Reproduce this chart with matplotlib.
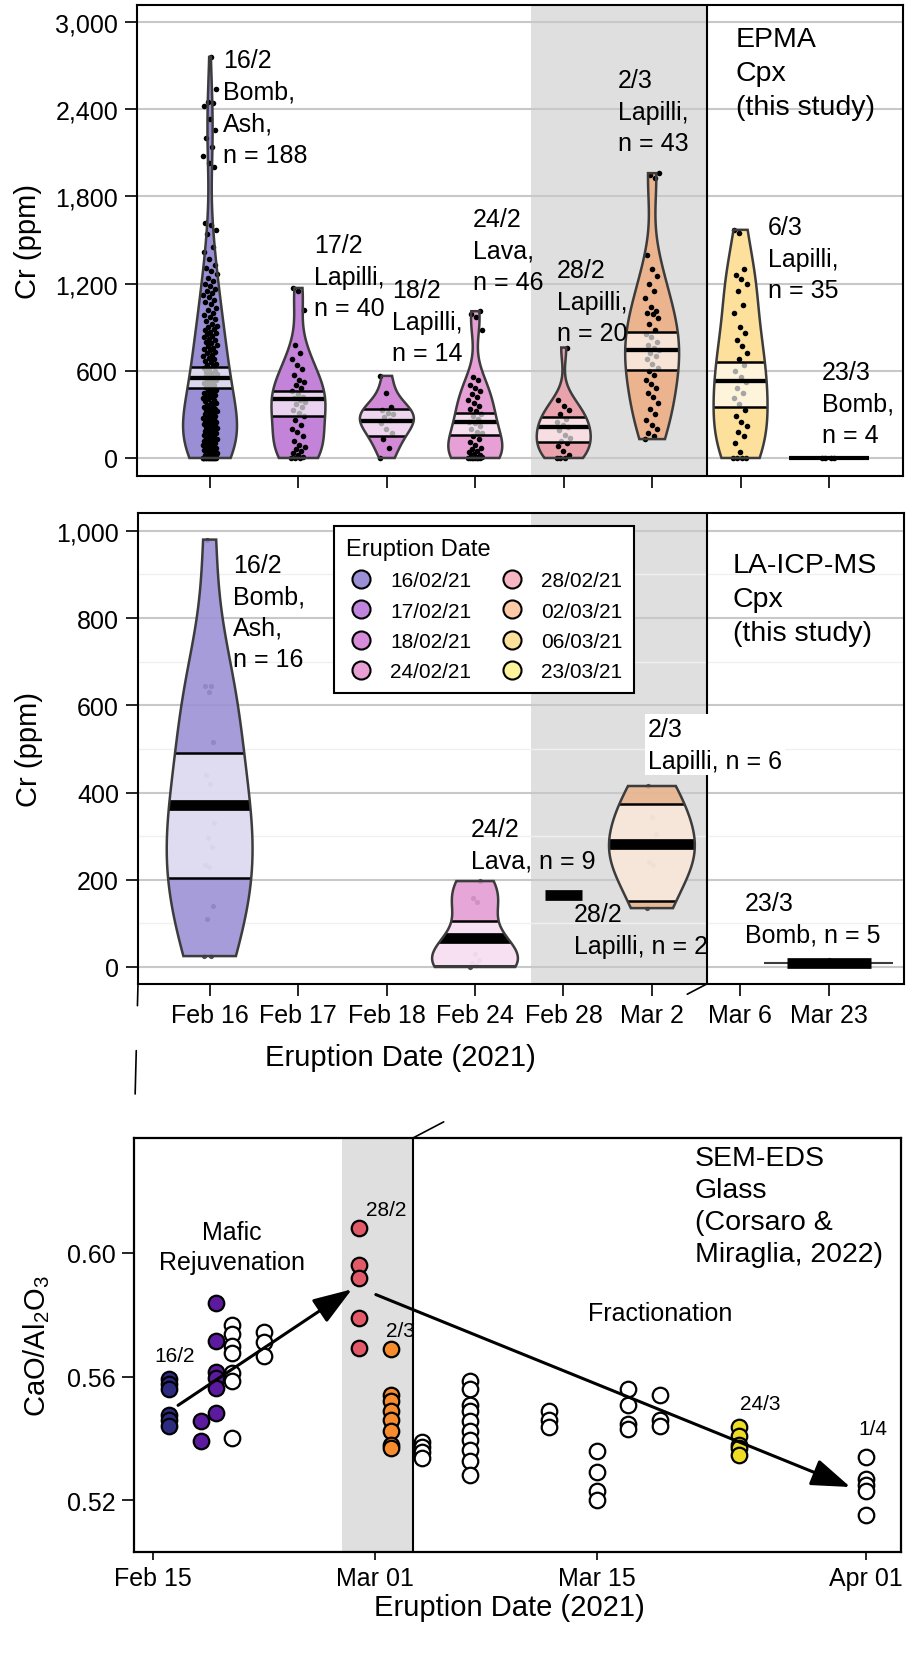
import numpy as np
import matplotlib.pyplot as plt
import matplotlib.dates as mdates
from matplotlib.lines import Line2D
from matplotlib.patches import Rectangle, PathPatch, ConnectionPatch
from matplotlib.ticker import FuncFormatter, MultipleLocator
from matplotlib.colors import to_rgba

plt.rcParams['font.family'] = ['Liberation Sans', 'DejaVu Sans']
plt.rcParams['mathtext.default'] = 'regular'

# ---------------- data ----------------
categories = ['Feb 16', 'Feb 17', 'Feb 18', 'Feb 24', 'Feb 28', 'Mar 2', 'Mar 6', 'Mar 23']
legend_labels = ['16/02/21', '17/02/21', '18/02/21', '24/02/21',
                 '28/02/21', '02/03/21', '06/03/21', '23/03/21']
legend_colors = ['#9b8fd6', '#bf84dc', '#d68cd9', '#e9a0d4',
                 '#f7b7c2', '#fccaa6', '#fde09b', '#fdf39c']

# EPMA Cpx, Cr (ppm)
epma_feb16 = [0] * 14 + [
    12, 15, 18, 20, 22, 28, 30, 35, 40, 45, 48, 52, 55, 60, 65, 70, 75, 80, 85,
    88, 92, 95, 100, 105, 110, 115, 118, 125, 130, 135, 140, 145, 150, 155, 165,
    170, 175, 180, 185, 195, 200, 205, 210, 215, 225, 230, 235, 240, 245, 250,
    255, 260, 265, 270, 275, 280, 285, 290, 295, 300, 305, 310, 320, 325, 330,
    335, 345, 350, 360, 365, 375, 380, 390, 400, 405, 415, 420, 430, 435, 440,
    450, 455, 465, 470, 480, 490, 500, 505, 515, 520, 530, 540, 545, 555, 560,
    570, 580, 585, 590, 600, 610, 620, 630, 640, 650, 660, 670, 680, 690, 700,
    710, 720, 730, 740, 750, 760, 770, 780, 790, 800, 810, 820, 830, 840, 850,
    860, 870, 880, 890, 900, 910, 925, 940, 955, 970, 985, 1000, 1015, 1030,
    1060, 1075, 1090, 1105, 1120, 1135, 1150, 1165, 1180, 1195, 1215, 1240,
    1265, 1290, 1310, 1330, 1370, 1420, 1450, 1540, 1570, 1600, 1620, 2000,
    2030, 2080, 2140, 2200, 2260, 2330, 2420, 2440, 2450, 2540, 2760]
epma_feb17 = [0, 0, 0, 10, 20, 35, 50, 60, 75, 90, 120, 150, 180, 200, 230, 260,
              290, 310, 330, 350, 370, 385, 400, 410, 420, 440, 460, 480, 500,
              520, 540, 570, 610, 640, 680, 720, 780, 1020, 1150, 1170]
epma_feb18 = [0, 70, 130, 170, 200, 240, 260, 280, 300, 310, 330, 350, 450, 565]
epma_feb24 = [0, 0, 0, 0, 0, 0, 0, 0, 5, 10, 15, 20, 30, 40, 50, 60, 70, 90,
              110, 130, 150, 170, 180, 200, 220, 240, 250, 270, 290, 300, 320,
              340, 360, 380, 400, 420, 440, 460, 480, 500, 540, 560, 880, 970,
              990, 1010]
epma_feb28 = [0, 0, 0, 20, 50, 80, 100, 120, 140, 160, 190, 210, 230, 250, 270,
              300, 330, 360, 400, 760]
epma_mar02 = [130, 150, 170, 200, 230, 260, 300, 340, 380, 420, 450, 480, 510,
              540, 570, 600, 620, 650, 680, 700, 720, 740, 760, 780, 800, 830,
              850, 880, 920, 960, 990, 1000, 1010, 1040, 1100, 1150, 1200, 1250,
              1300, 1400, 1930, 1950, 1960]
epma_mar06 = [0, 0, 0, 0, 40, 100, 150, 180, 220, 250, 290, 330, 370, 410, 450,
              480, 520, 560, 600, 640, 680, 720, 770, 810, 860, 900, 1000, 1050,
              1150, 1200, 1230, 1260, 1300, 1550, 1570]
epma_mar23 = [0, 0, 0, 0]
epma_data = [epma_feb16, epma_feb17, epma_feb18, epma_feb24,
             epma_feb28, epma_mar02, epma_mar06, epma_mar23]
epma_band_lo = [480, 290, 150, 160, 110, 605, 350, 0]
epma_band_mid = [550, 405, 255, 250, 210, 745, 530, 0]
epma_band_hi = [625, 460, 335, 310, 280, 865, 660, 0]
epma_colors = ['#9a8fd4', '#c283d8', '#d38ad6', '#e6a0d6',
               '#e8a3ad', '#ecb48e', '#fde09b', '#fde09b']
epma_labels = ['16/2\nBomb,\nAsh,\nn = 188', '17/2\nLapilli,\nn = 40',
               '18/2\nLapilli,\nn = 14', '24/2\nLava,\nn = 46',
               '28/2\nLapilli,\nn = 20', '2/3\nLapilli,\nn = 43',
               '6/3\nLapilli,\nn = 35', '23/3\nBomb,\nn = 4']

# LA-ICP-MS Cpx, Cr (ppm)
la_pos = [0, 3, 4, 5, 7]
la_feb16 = [25, 25, 110, 140, 230, 235, 275, 295, 330, 420, 440, 515, 630, 645, 645, 980]
la_feb24 = [0, 5, 10, 15, 30, 66, 150, 158, 197]
la_feb28 = [160, 170]
la_mar02 = [135, 235, 240, 305, 345, 415]
la_mar23 = [5, 8, 10, 12, 15]
la_data = [la_feb16, la_feb24, la_feb28, la_mar02, la_mar23]
la_band_lo = [205, 2, 165, 151, 10]
la_band_mid = [372, 66, 165, 282, 10]
la_band_hi = [490, 105, 165, 374, 10]
la_colors = ['#9a8fd4', '#e39bd3', '#e8a3ad', '#e9b48c', '#fdf39c']
la_labels = ['16/2\nBomb,\nAsh,\nn = 16', '24/2\nLava, n = 9',
             '28/2\nLapilli, n = 2', '2/3\nLapilli, n = 6', '23/3\nBomb, n = 5']

# SEM-EDS glass, CaO/Al2O3 (Corsaro & Miraglia, 2022)
glass_dates = ['2021-02-16', '2021-02-18', '2021-02-19', '2021-02-20', '2021-02-22',
               '2021-02-28', '2021-03-02', '2021-03-04', '2021-03-07', '2021-03-12',
               '2021-03-15', '2021-03-17', '2021-03-19', '2021-03-24', '2021-04-01']
glass_values = [
    [0.5591, 0.5575, 0.5559, 0.5476, 0.5458, 0.5441],
    [0.5455, 0.5393],
    [0.5837, 0.5715, 0.5615, 0.5594, 0.5563, 0.5483],
    [0.5768, 0.5736, 0.5698, 0.5677, 0.5611, 0.5587, 0.5403],
    [0.5743, 0.5712, 0.5667],
    [0.6080, 0.5962, 0.5920, 0.5788, 0.5691],
    [0.5688, 0.5539, 0.5520, 0.5490, 0.5459, 0.5424, 0.5379, 0.5369],
    [0.5389, 0.5372, 0.5355, 0.5337],
    [0.5587, 0.5559, 0.5507, 0.5490, 0.5455, 0.5424, 0.5396, 0.5362, 0.5327, 0.5282],
    [0.5490, 0.5459, 0.5438],
    [0.5358, 0.5292, 0.5230, 0.5202],
    [0.5559, 0.5507, 0.5448, 0.5431],
    [0.5542, 0.5459, 0.5441],
    [0.5438, 0.5407, 0.5379, 0.5369, 0.5345],
    [0.5341, 0.5268, 0.5251, 0.5230, 0.5153],
]
glass_colors = ['#2d2b80', '#5c1a9e', '#5c1a9e', 'white', 'white',
                '#e25a68', '#f68c2d', 'white', 'white', 'white',
                'white', 'white', 'white', '#eedd22', 'white']

# ---------------- helpers ----------------
EDGE = '#3c3c3c'
SHADE = '#e0dfe0'
GRID = '#c8c8c8'


def spread(n, amount):
    # deterministic horizontal spread of the dots
    k = np.arange(n)
    return ((k * 0.618034) % 1.0 - 0.5) * 2 * amount


def violin(ax, pos, values, color, width, band, mid_lw, alpha, bw=None):
    vp = ax.violinplot([values], positions=[pos], widths=width,
                       showextrema=False, bw_method=bw)
    body = vp['bodies'][0]
    body.set_alpha(None)
    body.set_facecolor(to_rgba(color, alpha))
    body.set_edgecolor('none')
    body.set_zorder(2)
    path = body.get_paths()[0]
    lo, mid, hi = band
    rect = Rectangle((pos - width, lo), 2 * width, hi - lo, facecolor='white',
                     alpha=0.65, edgecolor='none', zorder=3.8)
    ax.add_patch(rect)
    rect.set_clip_path(path, ax.transData)
    for y, lw in [(lo, 1.8), (hi, 1.8), (mid, mid_lw)]:
        ln = ax.hlines(y, pos - width, pos + width, colors='k', linewidth=lw, zorder=4)
        ln.set_clip_path(path, ax.transData)
    ax.add_patch(PathPatch(path, facecolor='none', edgecolor=EDGE, lw=1.8, zorder=5))


def style_violin_axes(ax, ymax_tick, ystep):
    for s in ax.spines.values():
        s.set_linewidth(1.5)
    ax.set_xticks(range(len(categories)))
    ax.set_yticks(np.arange(0, ymax_tick + 1, ystep))
    ax.yaxis.set_major_formatter(FuncFormatter(lambda v, p: f'{v:,.0f}'))
    ax.tick_params(axis='both', length=8.6, width=1.2, labelsize=18, pad=5)
    ax.yaxis.grid(True, color=GRID, lw=1.5)
    ax.set_axisbelow(True)
    ax.axvspan(3.63, 5.62, color=SHADE, lw=0, zorder=0)
    ax.axvline(5.62, color='k', lw=1.5, zorder=1)
    ax.set_ylabel('Cr (ppm)', fontsize=21)
    ax.yaxis.set_label_coords(-0.124, 0.5)


fig = plt.figure(figsize=(9.08, 16.56), dpi=100)
ax1 = fig.add_axes([137 / 908, 1 - 477 / 1656, 766 / 908, 471 / 1656])
ax2 = fig.add_axes([138 / 908, 1 - 985 / 1656, 766 / 908, 471 / 1656])
ax3 = fig.add_axes([134 / 908, 1 - 1553 / 1656, 767 / 908, 414 / 1656])

# ---------------- EPMA panel ----------------
ax1.set_xlim(-0.826, 7.837)
ax1.set_ylim(-124, 3117)
style_violin_axes(ax1, 3000, 600)
ax1.tick_params(labelbottom=False)
for i, vals in enumerate(epma_data):
    band = (epma_band_lo[i], epma_band_mid[i], epma_band_hi[i])
    ax1.scatter(i + spread(len(vals), 0.08), vals, s=16, c='k', lw=0, zorder=3.5)
    if max(vals) - min(vals) > 50:
        violin(ax1, i, vals, epma_colors[i], 0.61, band, 3.1, 1.0)
    else:
        ax1.hlines(epma_band_mid[i], i - 0.45, i + 0.45, colors='k', lw=3, zorder=4)

epma_label_xy = [(0.147, 2821), (1.176, 1548), (2.058, 1239), (2.974, 1727),
                 (3.924, 1376), (4.614, 2684), (6.31, 1672), (6.92, 674)]
for (x, y), txt in zip(epma_label_xy, epma_labels):
    ax1.text(x, y, txt, fontsize=18, ha='left', va='top', linespacing=1.4, zorder=6)
ax1.text(5.948, 2973, 'EPMA\nCpx\n(this study)', fontsize=20.5, ha='left',
         va='top', linespacing=1.4, zorder=6)

# ---------------- LA-ICP-MS panel ----------------
ax2.set_xlim(-0.81, 7.85)
ax2.set_ylim(-39, 1041)
style_violin_axes(ax2, 1000, 200)
ax2.yaxis.set_minor_locator(MultipleLocator(100))
ax2.yaxis.grid(True, which='minor', color='#f0f0f0', lw=1)
ax2.tick_params(axis='y', which='minor', length=0)
ax2.set_xticklabels(categories)
ax2.set_xlabel('Eruption Date (2021)', fontsize=21)
ax2.xaxis.set_label_coords(0.343, -0.125)

for pos, vals, col, lo, mid, hi in zip(la_pos, la_data, la_colors,
                                      la_band_lo, la_band_mid, la_band_hi):
    ax2.scatter(pos + spread(len(vals), 0.06), vals, s=14, c='#505050', lw=0, zorder=1.5)
    if max(vals) - min(vals) > 50:
        violin(ax2, pos, vals, col, 0.97, (lo, mid, hi), 7.7, 0.88)
    elif len(vals) == 2:
        ax2.hlines(mid, pos - 0.21, pos + 0.21, colors='k', lw=7.7, zorder=4)
    else:
        ax2.hlines(mid, pos - 0.73, pos + 0.73, colors=EDGE, lw=1.5, zorder=4)
        ax2.hlines(mid, pos - 0.475, pos + 0.475, colors='k', lw=7.7, zorder=4.5)

la_label_xy = [(0.26, 950), (2.95, 344), (4.116, 149), (4.953, 573), (6.05, 174)]
for (x, y), txt in zip(la_label_xy, la_labels):
    bbox = dict(facecolor='white', edgecolor='none', pad=2) if txt.startswith('2/3') else None
    ax2.text(x, y, txt, fontsize=18, ha='left', va='top', linespacing=1.4,
             zorder=6, bbox=bbox)
ax2.text(5.914, 952, 'LA-ICP-MS\nCpx\n(this study)', fontsize=20.5, ha='left',
         va='top', linespacing=1.4, zorder=6)

handles = [Line2D([], [], marker='o', ls='', markersize=13, mfc=c, mec='k', mew=1.5)
           for c in legend_colors]
leg = ax2.legend(handles, legend_labels, loc='upper left', bbox_to_anchor=(0.256, 0.972),
                 ncol=2, fontsize=15, title='Eruption Date', title_fontsize=17,
                 alignment='left', fancybox=False, edgecolor='k', framealpha=1,
                 borderpad=0.55, handlelength=1.5, handletextpad=0.65,
                 columnspacing=1.2, labelspacing=0.55, borderaxespad=0)
leg.get_frame().set_linewidth(1.5)
leg.set_zorder(7)

# ---------------- SEM-EDS panel ----------------
base = mdates.date2num(np.datetime64('2021-02-15'))
ax3.set_xlim(base - 1.2, mdates.date2num(np.datetime64('2021-04-01')) + 2.2)
ax3.set_ylim(0.5033, 0.6371)
for s in ax3.spines.values():
    s.set_linewidth(1.6)
ax3.axvspan(base + 11.9, base + 16.4, color=SHADE, lw=0, zorder=0)
ax3.axvline(base + 16.4, color='k', lw=1.5, zorder=1)

for d, vals, col in zip(glass_dates, glass_values, glass_colors):
    x = np.full(len(vals), mdates.date2num(np.datetime64(d)))
    ax3.scatter(x, vals, s=125, c=col, edgecolors='k', linewidths=1.6, zorder=3)

arrow = dict(arrowstyle='-|>,head_length=1.2,head_width=0.42', lw=2.2, color='k',
             mutation_scale=20, shrinkA=0, shrinkB=0)
ax3.annotate('', xy=(base + 12.55, 0.5882), xytext=(base + 1.58, 0.5507),
             arrowprops=arrow, zorder=4)
ax3.annotate('', xy=(base + 44.0, 0.5243), xytext=(base + 14.06, 0.5865),
             arrowprops=arrow, zorder=4)

ax3.text(base + 4.98, 0.6019, 'Mafic\nRejuvenation', fontsize=18, ha='center',
         va='center', linespacing=1.3)
ax3.text(base + 1.39, 0.5667, '16/2', fontsize=15, ha='center', va='center')
ax3.text(base + 13.43, 0.6139, '28/2', fontsize=15, ha='left', va='center')
ax3.text(base + 14.69, 0.575, '2/3', fontsize=15, ha='left', va='center')
ax3.text(base + 32.03, 0.5806, 'Fractionation', fontsize=18, ha='center', va='center')
ax3.text(base + 37.07, 0.5514, '24/3', fontsize=15, ha='left', va='center')
ax3.text(base + 44.5, 0.5431, '1/4', fontsize=15, ha='left', va='center')
ax3.text(base + 34.17, 0.6347, 'SEM-EDS\nGlass\n(Corsaro &\nMiraglia, 2022)',
         fontsize=20.5, ha='left', va='top', linespacing=1.29)

ax3.set_xticks([mdates.date2num(np.datetime64(d)) for d in
                ['2021-02-15', '2021-03-01', '2021-03-15', '2021-04-01']])
ax3.xaxis.set_major_formatter(mdates.DateFormatter('%b %d'))
ax3.set_yticks([0.52, 0.56, 0.60])
ax3.yaxis.set_major_formatter(FuncFormatter(lambda v, p: f'{v:.2f}'))
ax3.tick_params(axis='x', length=6, width=1.2, labelsize=18, pad=4)
ax3.tick_params(axis='y', length=9, width=1.2, labelsize=18, pad=4)
ax3.set_ylabel('CaO/Al$_2$O$_3$', fontsize=21)
ax3.yaxis.set_label_coords(-0.107, 0.5)
ax3.set_xlabel('Eruption Date (2021)', fontsize=21)
ax3.xaxis.set_label_coords(0.489, -0.099)

# zoom connector lines between the violin panel and the glass panel
con_left = ConnectionPatch(xyA=(0, 0), coordsA='axes fraction', axesA=ax2,
                           xyB=(0, 1), coordsB='axes fraction', axesB=ax3,
                           color='k', lw=1.2, linestyle=(0, (13, 27, 26, 27)))
con_right = ConnectionPatch(xyA=(5.62, -39), coordsA='data', axesA=ax2,
                            xyB=(base + 16.4, 0.6371), coordsB='data', axesB=ax3,
                            color='k', lw=1.2, linestyle=(0, (13.2, 165, 21, 200)))
fig.add_artist(con_left)
fig.add_artist(con_right)

fig.savefig('out.png', dpi=100)
